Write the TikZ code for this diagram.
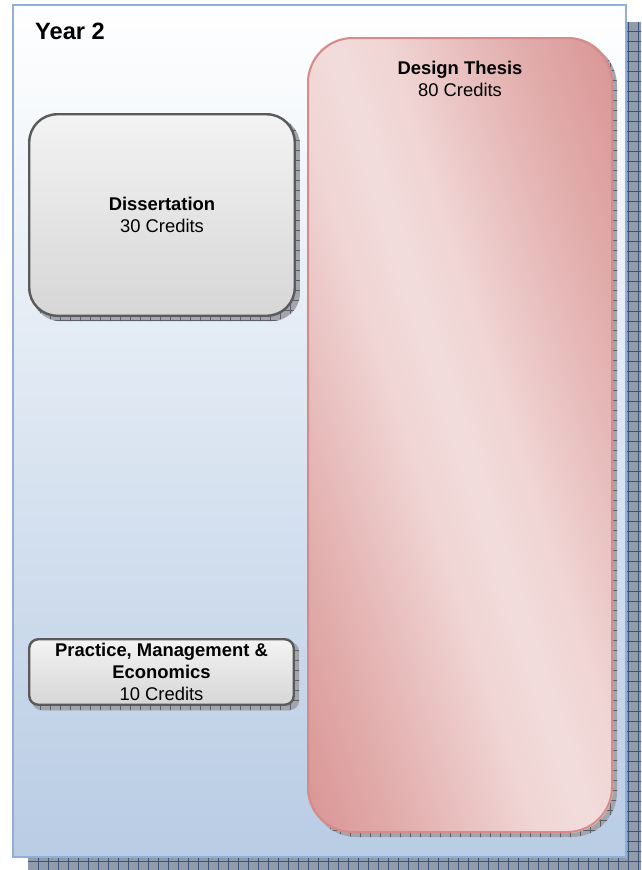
\documentclass[tikz,border=0pt]{standalone}
\usepackage{fontspec}
\setmainfont{Liberation Sans}
\definecolor{frametop}{HTML}{FFFFFF}
\definecolor{framebottom}{HTML}{B8CCE4}
\definecolor{frameline}{HTML}{92AED6}
\definecolor{outershadow}{HTML}{909BAC}
\definecolor{outergrid}{HTML}{3B5478}
\definecolor{nodeshadow}{HTML}{A2A5AC}
\definecolor{nodegrid}{HTML}{5A5E68}
\definecolor{graytop}{HTML}{F3F3F3}
\definecolor{graybottom}{HTML}{D6D6D6}
\definecolor{grayline}{HTML}{5A5A5A}
\definecolor{thesisdark}{HTML}{D99594}
\definecolor{thesislight}{HTML}{F2DCDB}
\definecolor{thesisline}{HTML}{D48C8B}
\colorlet{thesisa}{thesisdark!10!thesislight}
\colorlet{thesisb}{thesisdark!35!thesislight}
\colorlet{thesisc}{thesisdark!70!thesislight}

% soft reflected band: dark edges, light centre
\pgfdeclarehorizontalshading{thesisband}{100bp}{%
  color(0bp)=(thesisdark); color(25bp)=(thesisdark);
  color(32.5bp)=(thesisc); color(40bp)=(thesisb); color(45bp)=(thesisa);
  color(50bp)=(thesislight);
  color(55bp)=(thesisa); color(60bp)=(thesisb); color(67.5bp)=(thesisc);
  color(75bp)=(thesisdark); color(100bp)=(thesisdark)}

% hatched drop shadow behind a rounded box: x1, y1, x2, y2, corner radius
\newcommand\hatchedshadow[5]{%
  \begin{scope}
    \clip[rounded corners=#5] (#1+4,#2+4) rectangle (#3+4,#4+4);
    \fill[nodeshadow] (#1,#2) rectangle (#3+5,#4+5);
    \foreach \xx in {0,10,...,640} \draw[nodegrid,line width=0.8pt] (\xx,#2) -- (\xx,#4+5);
    \foreach \yy in {0,10,...,870} \draw[nodegrid,line width=0.8pt] (#1,\yy) -- (#3+5,\yy);
  \end{scope}}

\tikzset{
  boxtext/.style={font=\fontsize{18.4}{22}\selectfont, align=center, text=black, inner sep=0pt},
  graybox/.style={boxtext, draw=grayline, line width=2.4pt, top color=graytop, bottom color=graybottom},
  thesisbox/.style={draw=thesisline, line width=2pt, rounded corners=45pt,
    minimum width=304pt, minimum height=794pt, inner sep=0pt},
}

\begin{document}
\begin{tikzpicture}[x=1pt,y=-1pt]
\useasboundingbox (0,0) rectangle (641,870);

% outer hatched shadow
\begin{scope}
  \clip (0,0) rectangle (641,870);
  \fill[outershadow] (28,22) rectangle (645,875);
  \foreach \xx in {38,48,...,640} \draw[outergrid,line width=1pt] (\xx,22) -- (\xx,875);
  \foreach \yy in {31,41,...,870} \draw[outergrid,line width=1pt] (28,\yy) -- (645,\yy);
\end{scope}

% year panel
\shade[top color=frametop, bottom color=framebottom] (13,5) rectangle (626,857);
\draw[frameline, line width=2.2pt] (13,5) rectangle (626,857);
\node[font=\fontsize{23.6}{28}\selectfont\bfseries, anchor=base west, inner sep=0pt] (year) at (35,39.5) {Year 2};

% design thesis
\hatchedshadow{307}{37}{613}{833}{45}
\begin{scope}
  \clip[rounded corners=45] (307,37) rectangle (613,833);
  \begin{scope}[transform canvas={shift={(460,435)}, rotate=18}]
    \shade[shading=thesisband] (-267,-620) rectangle (267,620);
  \end{scope}
\end{scope}
\node[thesisbox] (thesis) at (460,435) {};
\node[boxtext] (thesistext) at (460,79.3) {\textbf{Design Thesis}\\80 Credits};

% dissertation
\hatchedshadow{28}{113}{296}{317}{28}
\node[graybox, minimum width=265.5pt, minimum height=201.5pt, rounded corners=28pt] (dissertation) at (162,215) {\textbf{Dissertation}\\30 Credits};

% practice, management & economics
\hatchedshadow{28}{638}{295}{706}{9}
\node[graybox, minimum width=264.5pt, minimum height=65.5pt, rounded corners=9pt] (practice) at (161.5,672) {\textbf{Practice, Management \&}\\\textbf{Economics}\\10 Credits};
\end{tikzpicture}
\end{document}
